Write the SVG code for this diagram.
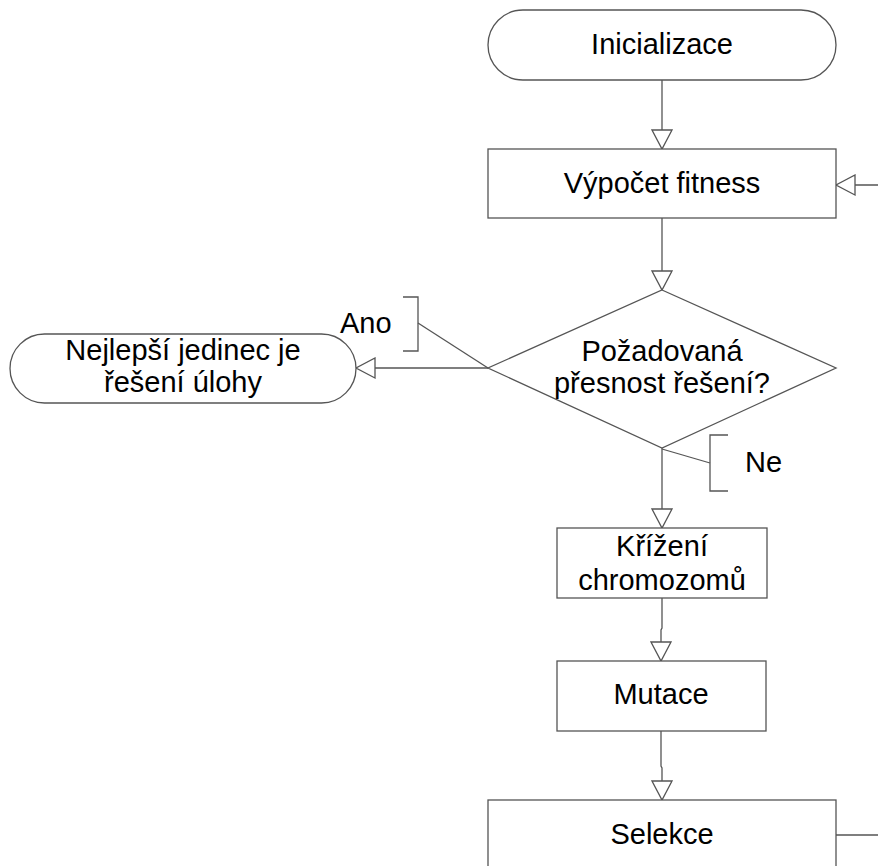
<svg xmlns="http://www.w3.org/2000/svg" width="878" height="866" viewBox="0 0 878 866">
<style>
.shape{fill:#fff;stroke:#555;stroke-width:1.3}
.conn{fill:none;stroke:#555;stroke-width:1.3}
text{font-family:"Liberation Sans",Arial,sans-serif;font-size:29px;fill:#000;text-anchor:middle}
.lbl{text-anchor:start}
</style>
<defs>
<marker id="arr" markerUnits="userSpaceOnUse" markerWidth="22" markerHeight="22" viewBox="0 0 22 22" refX="20" refY="11" orient="auto">
<polygon points="1,1 20,11 1,21" fill="#fff" stroke="#555" stroke-width="1.3"/>
</marker>
</defs>
<rect width="878" height="866" fill="#fff"/>
<g id="connectors">
<line class="conn" x1="662" y1="80" x2="662" y2="149" marker-end="url(#arr)"/>
<polyline class="conn" points="878,185 836,185" marker-end="url(#arr)"/>
<line class="conn" x1="662" y1="218" x2="662" y2="290" marker-end="url(#arr)"/>
<line class="conn" x1="488" y1="368" x2="356" y2="368" marker-end="url(#arr)"/>
<line class="conn" x1="662" y1="448" x2="662" y2="528" marker-end="url(#arr)"/>
<polyline class="conn" points="662,598 662,628 661,630 661,661" marker-end="url(#arr)"/>
<polyline class="conn" points="661,731 661,766 662,768 662,800" marker-end="url(#arr)"/>
<line class="conn" x1="836" y1="835" x2="878" y2="835"/>
</g>
<g id="label-ano">
<polyline class="conn" points="403,297 418,297 418,351 403,351"/>
<line class="conn" x1="418" y1="323" x2="488" y2="368"/>
<text class="lbl" x="340" y="333">Ano</text>
</g>
<g id="label-ne">
<polyline class="conn" points="728,435 710,435 710,491 728,491"/>
<line class="conn" x1="662" y1="449" x2="710" y2="463"/>
<text class="lbl" x="745" y="472">Ne</text>
</g>
<g id="inicializace">
<rect class="shape" x="488" y="10" width="348" height="70" rx="35" ry="35"/>
<text x="662" y="54">Inicializace</text>
</g>
<g id="fitness">
<rect class="shape" x="488" y="149" width="348" height="69"/>
<text x="662" y="193">Výpočet fitness</text>
</g>
<g id="presnost">
<polygon class="shape" points="662,290 836,368 662,448 488,368"/>
<text x="662" y="361">Požadovaná</text>
<text x="662" y="393">přesnost řešení?</text>
</g>
<g id="nejlepsi">
<rect class="shape" x="10" y="334" width="346" height="69" rx="34.5" ry="34.5"/>
<text x="183" y="360">Nejlepší jedinec je</text>
<text x="183" y="392">řešení úlohy</text>
</g>
<g id="krizeni">
<rect class="shape" x="557" y="528" width="210" height="70"/>
<text x="662" y="556">Křížení</text>
<text x="662" y="590">chromozomů</text>
</g>
<g id="mutace">
<rect class="shape" x="557" y="661" width="209" height="70"/>
<text x="661" y="704">Mutace</text>
</g>
<g id="selekce">
<rect class="shape" x="488" y="800" width="348" height="80"/>
<text x="662" y="844">Selekce</text>
</g>
</svg>
